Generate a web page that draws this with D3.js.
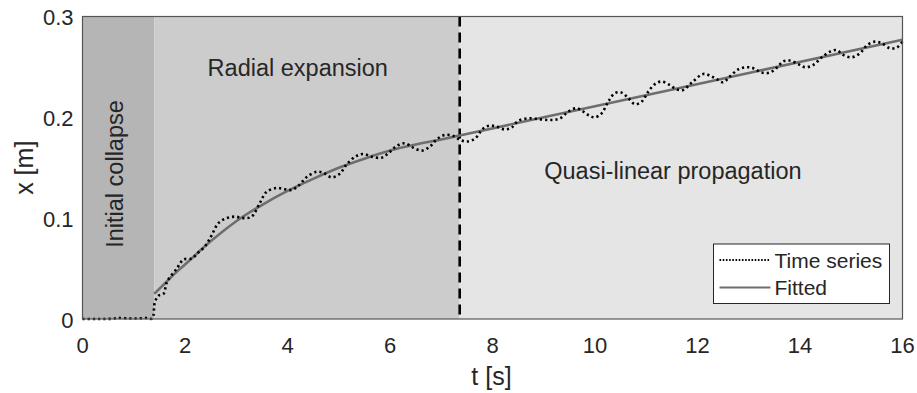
<!DOCTYPE html>
<meta charset="utf-8">
<style>
body { margin: 0; background: #fff; }
text { font-family: "Liberation Sans", Arial, sans-serif; fill: #262626; }
.ts { fill: none; stroke: #000; stroke-width: 2.6px; stroke-dasharray: 2.2,3; }
.fit { fill: none; stroke: #6e6e6e; stroke-width: 2.6px; }
</style>
<body>
<script src="https://d3js.org/d3.v7.min.js"></script>
<script>

// phases of the run
var phaseNames = ["Initial collapse", "Radial expansion", "Quasi-linear propagation"];
var phaseStart = [0, 1.4, 7.36];
var phaseEnd = [1.4, 7.36, 16];
var phaseFill = ["#b5b5b5", "#cccccc", "#e5e5e5"];

var tsTime = [0, 0.3, 0.6, 0.7, 0.9, 1.1, 1.25, 1.36, 1.41, 1.48, 1.58, 1.65, 1.84, 1.97,
  2.13, 2.26, 2.39, 2.52, 2.65, 2.81, 2.98, 3.14, 3.30, 3.46, 3.59, 3.79, 3.95, 4.08,
  4.21, 4.37, 4.57, 4.70, 4.86, 5.02, 5.15, 5.32, 5.48, 5.64, 5.84, 5.97, 6.13, 6.29,
  6.45, 6.62, 6.78, 6.91, 7.07, 7.24, 7.37, 7.50, 7.66, 7.82, 7.95, 8.08, 8.24, 8.37,
  8.50, 8.70, 8.93, 9.15, 9.32, 9.48, 9.64, 9.77, 9.90, 10.0, 10.13, 10.26, 10.39,
  10.52, 10.65, 10.78, 10.91, 11.04, 11.17, 11.30, 11.46, 11.59, 11.72, 11.89, 12.11,
  12.24, 12.37, 12.50, 12.63, 12.80, 12.96, 13.09, 13.25, 13.41, 13.55, 13.67, 13.80,
  13.97, 14.10, 14.26, 14.42, 14.59, 14.72, 14.84, 15.01, 15.17, 15.30, 15.46, 15.59,
  15.76, 15.89, 16.0];
var tsValue = [0, 0, 0.0003, 0.001, 0.0005, 0.0005, 0.001, 0.0005, 0.016, 0.023, 0.025,
  0.037, 0.050, 0.059, 0.060, 0.066, 0.072, 0.083, 0.095, 0.100, 0.1015, 0.100, 0.1015,
  0.115, 0.126, 0.130, 0.1286, 0.128, 0.132, 0.1405, 0.146, 0.145, 0.1405, 0.144, 0.153,
  0.161, 0.1637, 0.161, 0.160, 0.1644, 0.1716, 0.1743, 0.170, 0.167, 0.171, 0.178,
  0.1825, 0.1815, 0.1776, 0.176, 0.179, 0.189, 0.1918, 0.1908, 0.188, 0.1898, 0.1964,
  0.199, 0.198, 0.1974, 0.199, 0.2057, 0.209, 0.2057, 0.2014, 0.200, 0.204, 0.2156,
  0.224, 0.2245, 0.219, 0.213, 0.2156, 0.2255, 0.233, 0.2355, 0.232, 0.2278, 0.2272,
  0.2345, 0.243, 0.2414, 0.238, 0.2348, 0.2404, 0.2477, 0.2497, 0.2487, 0.2444, 0.2444,
  0.2493, 0.2553, 0.2563, 0.2527, 0.2497, 0.252, 0.2593, 0.2652, 0.2666, 0.2619,
  0.2596, 0.2636, 0.2711, 0.2751, 0.2735, 0.2685, 0.2692, 0.2751];

// fitted curve
var fitTime = [1.4, 1.6, 1.8, 2.0, 2.5, 3.0, 3.5, 4.0, 4.5, 5.0, 5.5, 6.0, 6.5, 7.0, 7.36, 10, 13, 16];
var fitValue = [0.025, 0.035, 0.045, 0.054, 0.077, 0.097, 0.113, 0.127, 0.139, 0.150,
  0.159, 0.167, 0.173, 0.178, 0.182, 0.211, 0.244, 0.277];

var xTicks = [0, 2, 4, 6, 8, 10, 12, 14, 16];
var yTicks = [0, 0.1, 0.2, 0.3];

var margin = {top: 16.5, right: 14.5, bottom: 74, left: 82.5},
    width = 917 - margin.left - margin.right,
    height = 393 - margin.top - margin.bottom;

var x = d3.scaleLinear().domain([0, 16]).range([0, width]);
var y = d3.scaleLinear().domain([0, 0.3]).range([height, 0]);

var svg = d3.select("body").append("svg")
    .attr("width", 917)
    .attr("height", 393)
  .append("g")
    .attr("transform", "translate(" + margin.left + "," + margin.top + ")");

// shaded phases
svg.selectAll(".phase")
    .data(phaseNames)
  .enter().append("rect")
    .attr("x", function(d, i) { return x(phaseStart[i]); })
    .attr("y", 0)
    .attr("width", function(d, i) { return x(phaseEnd[i]) - x(phaseStart[i]); })
    .attr("height", height)
    .attr("fill", function(d, i) { return phaseFill[i]; });

// phase labels
svg.append("text")
    .attr("transform", "translate(40.8,157.5) rotate(-90)")
    .attr("text-anchor", "middle")
    .style("font-size", "23.5px")
    .text(phaseNames[0]);
svg.append("text")
    .attr("x", x(4.2)).attr("y", y(0.2406))
    .attr("text-anchor", "middle")
    .style("font-size", "23.5px")
    .text(phaseNames[1]);
svg.append("text")
    .attr("x", x(11.52)).attr("y", y(0.1393))
    .attr("text-anchor", "middle")
    .style("font-size", "23.5px")
    .text(phaseNames[2]);

// phase boundary
svg.append("line")
    .attr("x1", x(phaseStart[2])).attr("x2", x(phaseStart[2]))
    .attr("y1", 0).attr("y2", height)
    .attr("stroke", "#000")
    .attr("stroke-width", 2.6)
    .attr("stroke-dasharray", "10,6");

var tsLine = d3.line()
    .x(function(d, i) { return x(tsTime[i]); })
    .y(function(d) { return y(d); })
    .curve(d3.curveCatmullRom);

var fitLine = d3.line()
    .x(function(d, i) { return x(fitTime[i]); })
    .y(function(d) { return y(d); })
    .curve(d3.curveMonotoneX);

svg.append("path").datum(fitValue).attr("class", "fit").attr("d", fitLine);
svg.append("path").datum(tsValue).attr("class", "ts").attr("d", tsLine);

// axes box
svg.append("rect")
    .attr("width", width).attr("height", height)
    .attr("fill", "none")
    .attr("stroke", "#555")
    .attr("stroke-width", 1.2);

// tick labels
svg.selectAll(".xt")
    .data(xTicks)
  .enter().append("text")
    .attr("x", function(d) { return x(d); })
    .attr("y", height + 33.5)
    .attr("text-anchor", "middle")
    .style("font-size", "22px")
    .text(function(d) { return d; });

svg.selectAll(".yt")
    .data(yTicks)
  .enter().append("text")
    .attr("x", -9)
    .attr("y", function(d) { return y(d); })
    .attr("dy", "0.4em")
    .attr("text-anchor", "end")
    .style("font-size", "22px")
    .text(function(d) { return d; });

// axis labels
svg.append("text")
    .attr("x", x(8) - 1)
    .attr("y", height + 66)
    .attr("text-anchor", "middle")
    .style("font-size", "25px")
    .text("t [s]");

svg.append("text")
    .attr("transform", "translate(-50," + (height / 2) + ") rotate(-90)")
    .attr("text-anchor", "middle")
    .style("font-size", "25px")
    .text("x [m]");

// legend
var lg = svg.append("g")
    .attr("transform", "translate(" + (713.5 - margin.left) + "," + (244 - margin.top) + ")");
lg.append("rect")
    .attr("width", 176).attr("height", 59.5)
    .attr("fill", "#fff")
    .attr("stroke", "#262626")
    .attr("stroke-width", 1);
var legendItems = ["Time series", "Fitted"];
legendItems.forEach(function(name, i) {
  var ly = 16 + i * 27.5;
  lg.append("line")
      .attr("x1", 6).attr("x2", 57)
      .attr("y1", ly).attr("y2", ly)
      .attr("class", i === 0 ? "ts" : "fit")
      .style("stroke-width", 2)
      .style("stroke-dasharray", i === 0 ? "1.6,1.6" : null);
  lg.append("text")
      .attr("x", 61).attr("y", ly)
      .attr("dy", "0.36em")
      .style("font-size", "21px")
      .text(name);
});

</script>
</body>
